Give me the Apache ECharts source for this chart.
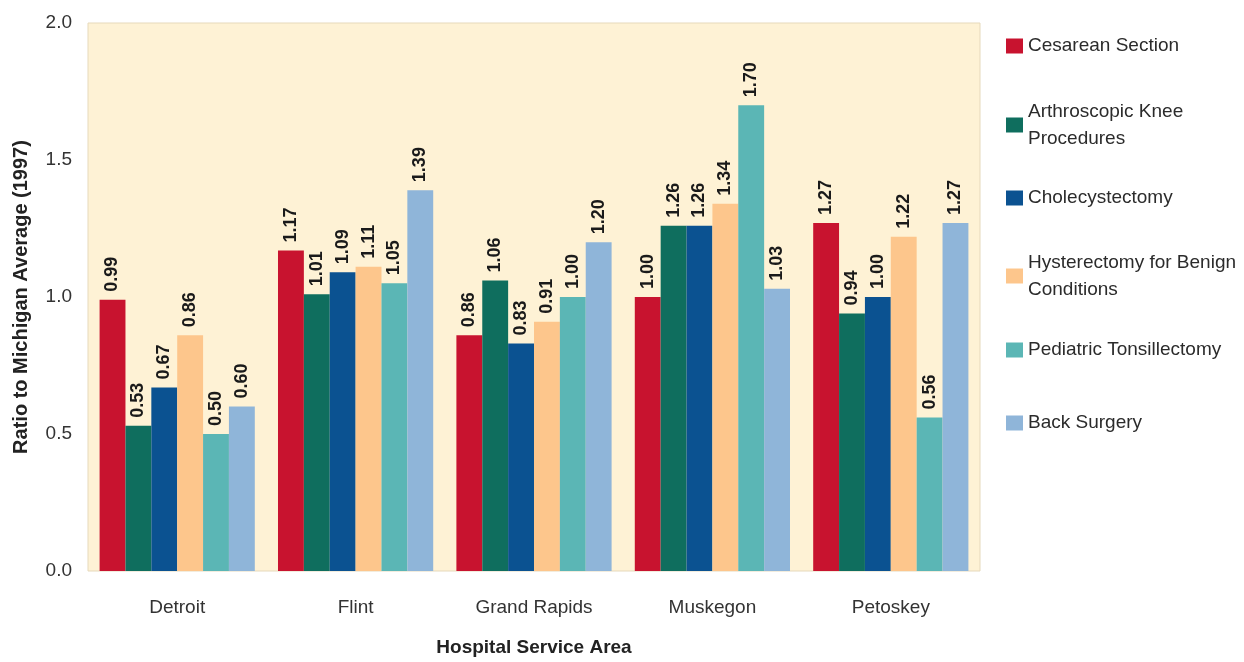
<!DOCTYPE html>
<html>
<head>
<meta charset="utf-8">
<script src="https://cdn.jsdelivr.net/npm/echarts@6/dist/echarts.min.js"></script>
<style>
html,body{margin:0;padding:0;background:#ffffff;}
#chart{width:1244px;height:662px;}
</style>
</head>
<body>
<div id="chart"></div>
<script>
const categories = ['Detroit', 'Flint', 'Grand Rapids', 'Muskegon', 'Petoskey'];
const seriesNames = ['Cesarean Section', 'Arthroscopic Knee\nProcedures', 'Cholecystectomy', 'Hysterectomy for Benign\nConditions', 'Pediatric Tonsillectomy', 'Back Surgery'];
const cesarean = [0.99, 1.17, 0.86, 1.00, 1.27];
const arthroscopic = [0.53, 1.01, 1.06, 1.26, 0.94];
const cholecystectomy = [0.67, 1.09, 0.83, 1.26, 1.00];
const hysterectomy = [0.86, 1.11, 0.91, 1.34, 1.22];
const tonsillectomy = [0.50, 1.05, 1.00, 1.70, 0.56];
const backSurgery = [0.60, 1.39, 1.20, 1.03, 1.27];
const yTicks = [0, 0.5, 1.0, 1.5, 2.0];

const seriesData = [cesarean, arthroscopic, cholecystectomy, hysterectomy, tonsillectomy, backSurgery];
const colors = ['#c8132f', '#0f6e5e', '#0b5291', '#fdc68c', '#5bb6b5', '#8fb5d9'];
const FONT = '"Liberation Sans", Arial, Helvetica, sans-serif';

const chart = echarts.init(document.getElementById('chart'), null, {renderer: 'canvas'});

const legendCenters = [46, 125, 198, 276, 350, 423];
const legends = seriesNames.map((name, i) => {
  const twoLine = name.indexOf('\n') >= 0;
  const L = twoLine ? 27 : 22;
  return {
    data: [name],
    left: 1006,
    top: twoLine ? legendCenters[i] - 40.5 : legendCenters[i] - 11,
    padding: 0,
    orient: 'vertical',
    icon: 'rect',
    itemWidth: 17,
    itemHeight: 15,
    selectedMode: false,
    textStyle: {
      fontFamily: FONT,
      fontSize: 19,
      color: '#2b2b2b',
      lineHeight: L,
      padding: twoLine ? [L, 0, 0, 0] : 0
    }
  };
});

const option = {
  backgroundColor: '#ffffff',
  animation: false,
  color: colors,
  grid: {
    left: 88, right: 264, top: 23, bottom: 91,
    show: true,
    backgroundColor: '#fef2d5',
    borderColor: '#e6d9bb',
    borderWidth: 1
  },
  legend: legends,
  xAxis: {
    type: 'category',
    data: categories,
    axisLine: {show: false},
    axisTick: {show: false},
    axisLabel: {fontFamily: FONT, fontSize: 19, color: '#333333', margin: 27},
    name: 'Hospital Service Area',
    nameLocation: 'middle',
    nameGap: 67,
    nameTextStyle: {fontFamily: FONT, fontSize: 19, fontWeight: 'bold', color: '#222222'}
  },
  yAxis: {
    type: 'value',
    min: yTicks[0],
    max: yTicks[yTicks.length - 1],
    interval: 0.5,
    axisLine: {show: false},
    axisTick: {show: false},
    splitLine: {show: false},
    axisLabel: {fontFamily: FONT, fontSize: 19, color: '#333333', margin: 16,
      formatter: v => v.toFixed(1)},
    name: 'Ratio to Michigan Average (1997)',
    nameLocation: 'middle',
    nameGap: 57,
    nameTextStyle: {fontFamily: FONT, fontSize: 20, fontWeight: 'bold', color: '#222222'}
  },
  series: seriesNames.map((name, i) => ({
    name: name,
    type: 'bar',
    data: seriesData[i],
    barGap: '0%',
    barCategoryGap: '13%',
    itemStyle: {color: colors[i]},
    label: {
      show: true,
      position: 'top',
      rotate: 90,
      align: 'left',
      verticalAlign: 'middle',
      distance: 8,
      fontFamily: FONT,
      fontSize: 18,
      fontWeight: 'bold',
      color: '#1a1a1a',
      formatter: p => p.value.toFixed(2)
    }
  }))
};
chart.setOption(option);
</script>
</body>
</html>
